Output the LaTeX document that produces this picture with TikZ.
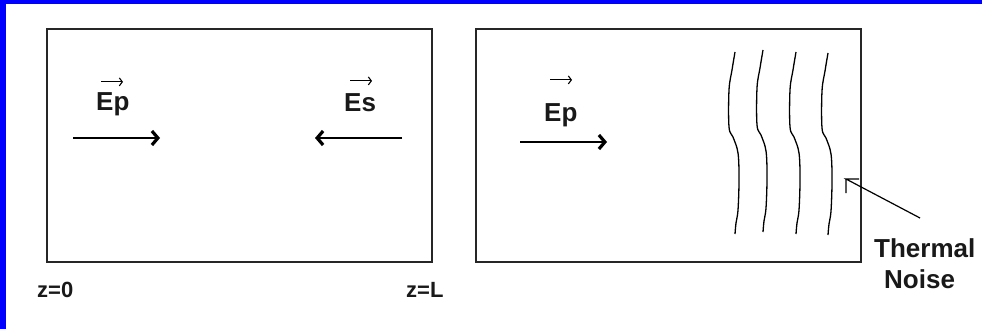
\documentclass[tikz,border=0pt]{standalone}
\usepackage{fontspec}
\setmainfont{Liberation Sans}
\usetikzlibrary{arrows.meta,calc}
\begin{document}
\begin{tikzpicture}[x=1pt,y=-1pt,
  frame/.style={draw=black!85,line width=2pt,minimum width=385pt,minimum height=233pt,inner sep=0pt},
  lbl/.style={font=\bfseries\fontsize{26}{26}\selectfont,inner sep=0pt,anchor=base west,text=black!90},
  zlbl/.style={font=\bfseries\fontsize{22}{22}\selectfont,inner sep=0pt,anchor=base west,text=black!90},
  note/.style={font=\bfseries\fontsize{26}{26}\selectfont,inner sep=0pt,anchor=base west,text=black!90},
  wave/.style={line width=2pt,-{Straight Barb[length=6pt,width=14pt,line width=3.2pt]}},
  vec/.style={line width=1.1pt,-{Straight Barb[length=3pt,width=8pt]}},
  noise/.style={line width=1.3pt,black}]
\useasboundingbox (0,0) rectangle (982,329);
\fill[white] (0,0) rectangle (982,329);
\fill[blue] (0,0) rectangle (982,4);
\fill[blue] (0,0) rectangle (6,329);
% boxes
\node[frame] (box1) at (239.5,145.5) {};
\node[frame] (box2) at (668.5,145.5) {};
% labels
\node[lbl] (ep1) at (96,110) {Ep};
\node[lbl] (es) at (344,111) {Es};
\node[lbl] (ep2) at (544,121) {Ep};
\draw[vec] ($(ep1.north west)+(5,-10)$) -- ++(22,0);
\draw[vec] ($(es.north west)+(6,-12)$) -- ++(22,0);
\draw[vec] ($(ep2.north west)+(6,-23)$) -- ++(22,0);
% wave arrows
\coordinate (a1s) at (73,138); \coordinate (a1e) at (160,138);
\coordinate (a2s) at (402,138); \coordinate (a2e) at (315,138);
\coordinate (a3s) at (520,142); \coordinate (a3e) at (607,142);
\draw[wave] (a1s) -- (a1e);
\draw[wave] (a2s) -- (a2e);
\draw[wave] (a3s) -- (a3e);
% noise lines
\foreach \dx/\dy in {0/0, 28/-2, 61/0, 93/1}{
  \draw[noise,shift={(\dx,\dy)}] plot[smooth,tension=0.6] coordinates
    {(735,52) (732,70) (729,90) (729,127) (733,137) (738,153) (739,180) (738,210) (736,223) (735,234)};
}
% pointer
\node[note] (th) at (874,257) {Thermal};
\node[note] (no) at (884,288) {Noise};
\coordinate (tail) at (920,218);
\coordinate (tip) at (846,179);
\draw[line width=1.2pt] (tail) -- (tip) -- ++(13,0) (tip) -- ++(0,14);
% z labels
\node[zlbl] (z0) at (37,297) {z=0};
\node[zlbl] (zl) at (406,297) {z=L};
\end{tikzpicture}
\end{document}
